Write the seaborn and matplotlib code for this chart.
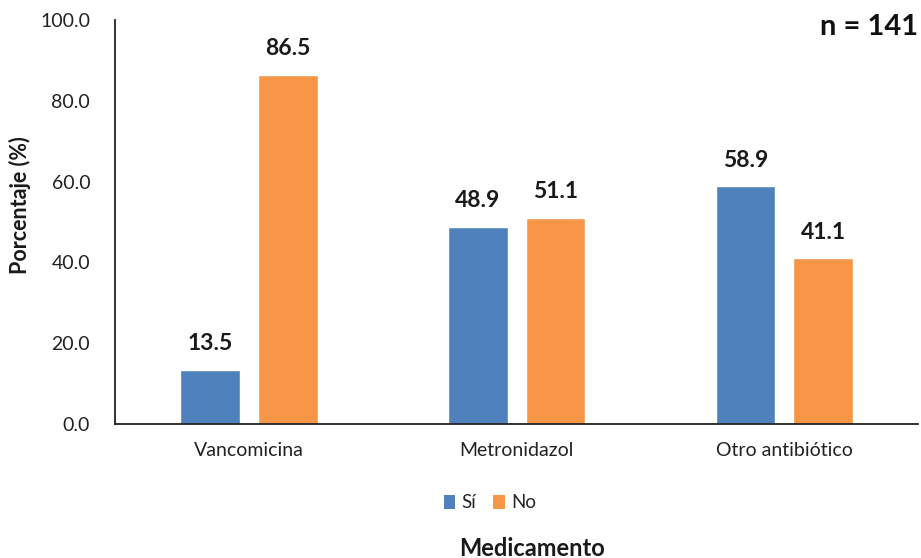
import matplotlib
matplotlib.use("Agg")
import matplotlib.pyplot as plt
import seaborn as sns
import pandas as pd
from matplotlib.patches import Patch

medicamentos = ["Vancomicina", "Metronidazol", "Otro antibiótico"]
respuestas = ["Sí", "No"]
si_pct = [13.5, 48.9, 58.9]
no_pct = [86.5, 51.1, 41.1]
yticks = [0, 20, 40, 60, 80, 100]

colores = {"Sí": "#4F81BD", "No": "#F79646"}

df = pd.DataFrame({
    "Medicamento": medicamentos * 2,
    "Respuesta": ["Sí"] * 3 + ["No"] * 3,
    "Porcentaje": si_pct + no_pct,
})

sns.set_theme(style="white")
plt.rcParams["font.family"] = ["Lato", "DejaVu Sans"]

fig = plt.figure(figsize=(9.21, 5.58), dpi=100)
ax = fig.add_axes([0.125, 0.240, 0.872, 0.724])

sns.barplot(data=df, x="Medicamento", y="Porcentaje", hue="Respuesta",
            hue_order=respuestas, order=medicamentos, palette=colores,
            width=0.58, gap=0.23, saturation=1, legend=False, ax=ax)

for cont in ax.containers:
    ax.bar_label(cont, labels=[f"{b.get_height():.1f}" for b in cont],
                 padding=11, fontsize=16.5, fontweight="bold", color="#1a1a1a")

ax.set_ylim(0, 100)
ax.set_yticks(yticks)
ax.set_yticklabels([f"{v:.1f}" for v in yticks])
ax.tick_params(axis="both", length=0, labelsize=14, colors="#222222")
ax.tick_params(axis="y", pad=18)
ax.tick_params(axis="x", pad=13)
ax.set_xlabel("")
ax.set_ylabel("")
for s in ["top", "right"]:
    ax.spines[s].set_visible(False)
for s in ["left", "bottom"]:
    ax.spines[s].set_color("#222222")
    ax.spines[s].set_linewidth(1.3)

fig.text(20 / 921, 1 - 205 / 558, "Porcentaje (%)", rotation=90,
         ha="center", va="center", fontsize=15.5, fontweight="bold", color="#1a1a1a")
fig.text(532 / 921, 1 - 548 / 558, "Medicamento", ha="center", va="center",
         fontsize=17, fontweight="bold", color="#1a1a1a")
fig.text(918 / 921, 1 - 27 / 558, "n = 141", ha="right", va="center",
         fontsize=21, fontweight="bold", color="#111111")

handles = [Patch(facecolor=colores[r], edgecolor="none") for r in respuestas]
fig.legend(handles, respuestas, loc="center", bbox_to_anchor=(490 / 921, 1 - 503 / 558),
           ncol=2, frameon=False, fontsize=13.5, handlelength=0.6, handleheight=0.7,
           handletextpad=0.35, columnspacing=0.9)

fig.savefig("out.png", dpi=100)
